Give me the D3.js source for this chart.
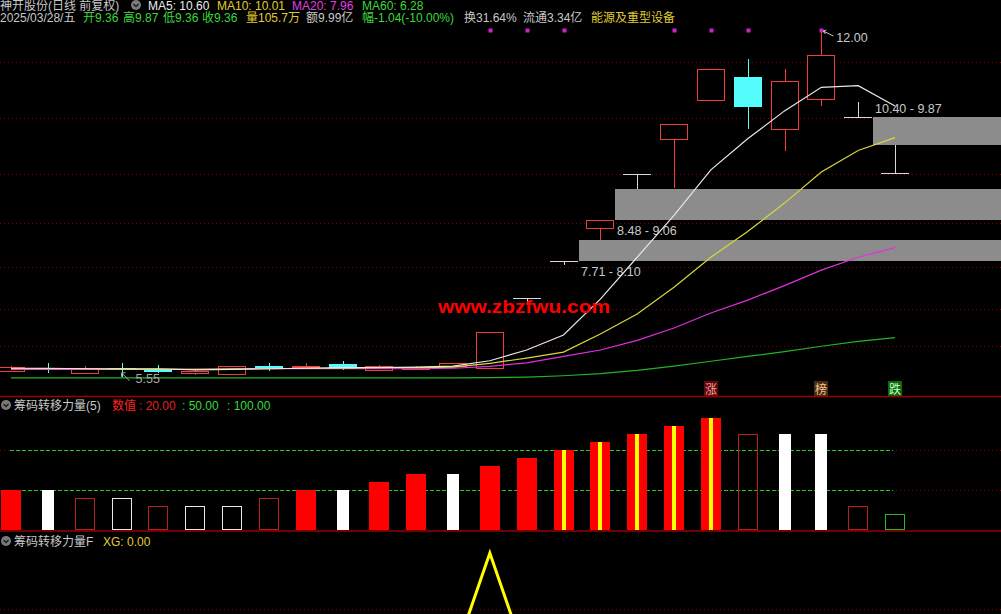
<!DOCTYPE html>
<html><head><meta charset="utf-8">
<script src="https://cdn.jsdelivr.net/npm/d3@7"></script>
<style>
html,body{margin:0;padding:0;background:#000;overflow:hidden}
svg{display:block}
text{font-family:"Liberation Sans","Noto Sans CJK SC",sans-serif;font-size:12px}
</style></head><body><svg id="c" width="1001" height="614"></svg>
<script>
// ---------- data ----------
const dates = ["2025-02-24","2025-02-25","2025-02-26","2025-02-27","2025-02-28",
  "2025-03-03","2025-03-04","2025-03-05","2025-03-06","2025-03-07",
  "2025-03-10","2025-03-11","2025-03-12","2025-03-13","2025-03-14",
  "2025-03-17","2025-03-18","2025-03-19","2025-03-20","2025-03-21",
  "2025-03-24","2025-03-25","2025-03-26","2025-03-27","2025-03-28"];
const open  = [5.66,5.72,5.62,5.71,5.68,5.62,5.60,5.76,5.73,5.79,5.68,5.70,5.76,5.72,7.02,7.71,8.33,9.33,9.99,10.71,11.15,10.17,10.73,10.40,9.36];
const high  = [5.76,5.80,5.76,5.81,5.77,5.70,5.76,5.80,5.80,5.84,5.77,5.76,5.81,6.38,7.02,7.71,8.48,9.33,10.26,11.29,11.47,11.29,12.00,10.68,9.87];
const low   = [5.64,5.62,5.60,5.55,5.63,5.58,5.58,5.66,5.72,5.68,5.65,5.68,5.74,5.70,6.91,7.64,8.10,9.06,9.07,10.71,10.17,9.76,10.60,10.40,9.36];
const close = [5.74,5.69,5.71,5.69,5.65,5.66,5.75,5.73,5.76,5.72,5.75,5.74,5.80,6.38,7.02,7.71,8.48,9.33,10.26,11.29,10.60,11.07,11.55,10.40,9.36];
const ma5  = [5.71,5.71,5.70,5.70,5.70,5.68,5.69,5.70,5.71,5.72,5.72,5.73,5.75,5.85,6.05,6.33,7.00,7.78,8.56,9.41,9.99,10.51,10.95,10.98,10.60];
const ma10 = [5.70,5.70,5.70,5.69,5.69,5.69,5.70,5.70,5.71,5.71,5.72,5.72,5.73,5.80,5.90,6.01,6.35,6.72,7.22,7.78,8.26,8.79,9.37,9.77,10.01];
const ma20 = [5.69,5.69,5.69,5.69,5.69,5.69,5.69,5.70,5.70,5.70,5.70,5.70,5.71,5.745,5.81,5.93,6.05,6.23,6.46,6.74,6.98,7.25,7.54,7.78,7.96];
const ma60 = [5.53,5.53,5.53,5.53,5.53,5.53,5.53,5.53,5.53,5.53,5.53,5.53,5.53,5.535,5.545,5.57,5.61,5.67,5.75,5.84,5.93,6.02,6.12,6.21,6.28];
const gridPrices = [11.42,10.37,9.33,8.42,7.59,6.81,6.13];
const gapLow  = [7.71, 8.48, 9.87];
const gapHigh = [8.10, 9.06, 10.40];
const gapFrom = [15, 16, 23];
const gapLabels = ["7.71 - 8.10", "8.48 - 9.06", "10.40 - 9.87"];
const gapLabelAbove = [false, false, true];
const signalDots = [13,14,15,18,19,20,22];
const tagIdx  = [19, 22, 24];
const tagText = ["涨", "榜", "跌"];
const power     = [50,50,40,40,30,30,30,40,50,50,60,70,70,80,90,100,110,120,130,140,120,120,120,30,20];
const powerType = ["R","W","r","w","r","w","w","r","R","W","R","R","W","R","R","Y","Y","Y","Y","Y","r","W","W","r","g"];
const powerLevels = [50, 100];
const xg = [0,0,0,0,0,0,0,0,0,0,0,0,0,1,0,0,0,0,0,0,0,0,0,0,0];

// ---------- setup ----------
const svg = d3.select("#c");
svg.append("rect").attr("width",1001).attr("height",614).attr("fill","#000");
const x = d3.scalePoint().domain(dates).range([11, 895]);
const y = d3.scaleLinear().domain([7.71, 12.00]).range([261, 31]);
const yP = d3.scaleLinear().domain([0, 100]).range([529.5, 449.5]);
const yX = d3.scaleLinear().domain([0, 1]).range([660, 553]);
const px = v => Math.round(v) + 0.5;

const RED = "#f03c3c", CYAN = "#54fcfc", FLAT = "#d8d8d8";
const GRID = "#7a0000";

// ---------- main grid ----------
svg.append("g").selectAll("line").data(gridPrices).join("line")
  .attr("x1",0).attr("x2",1001)
  .attr("y1",d=>px(y(d))).attr("y2",d=>px(y(d)))
  .attr("stroke",GRID).attr("stroke-dasharray","1 3");

// ---------- gap boxes ----------
const gaps = gapLow.map((lo,k)=>({lo, hi:gapHigh[k], i:gapFrom[k], label:gapLabels[k], above:gapLabelAbove[k]}));
const gG = svg.append("g");
gG.selectAll("rect").data(gaps).join("rect")
  .attr("x",d=>Math.round(x(dates[d.i]))+15)
  .attr("y",d=>Math.round(y(d.hi)))
  .attr("width",d=>1001-(Math.round(x(dates[d.i]))+15))
  .attr("height",d=>Math.round(y(d.lo))-Math.round(y(d.hi)))
  .attr("fill","#8c8c8c");
gG.selectAll("text").data(gaps).join("text")
  .attr("x",d=>Math.round(x(dates[d.i]))+17)
  .attr("y",d=>d.above ? y(d.hi)-4 : y(d.lo)+15)
  .attr("fill","#c8c8c8").style("font-size","12.5px")
  .text(d=>d.label);

// ---------- candles ----------
const candles = dates.map((d,i)=>({d, o:open[i], h:high[i], l:low[i], c:close[i]}));
const cG = svg.append("g").attr("shape-rendering","crispEdges");
candles.forEach(k=>{
  const cx = Math.round(x(k.d));
  const col = k.c > k.o ? RED : (k.c < k.o ? CYAN : FLAT);
  cG.append("line").attr("x1",cx+0.5).attr("x2",cx+0.5)
    .attr("y1",y(k.h)).attr("y2",y(k.l)).attr("stroke",col);
  if (k.c === k.o) {
    cG.append("line").attr("x1",cx-14).attr("x2",cx+14)
      .attr("y1",px(y(k.o))).attr("y2",px(y(k.o))).attr("stroke",col);
  } else {
    const top = Math.round(y(Math.max(k.o,k.c))), bot = Math.round(y(Math.min(k.o,k.c)));
    cG.append("rect").attr("x",cx-13.5).attr("y",top+0.5)
      .attr("width",27).attr("height",Math.max(1,bot-top))
      .attr("fill",k.c>k.o ? "#000" : CYAN).attr("stroke",col);
  }
});

// ---------- MA lines ----------
const maSeries = [[ma60,"#22b422"],[ma20,"#e030e0"],[ma10,"#d8d838"],[ma5,"#e8e8e8"]];
const lineGen = d3.line().x((v,i)=>x(dates[i])).y(v=>y(v));
svg.append("g").selectAll("path").data(maSeries).join("path")
  .attr("d",d=>lineGen(d[0])).attr("fill","none").attr("stroke",d=>d[1]).attr("stroke-width",1.2);

// ---------- signal dots ----------
svg.append("g").selectAll("rect").data(signalDots).join("rect")
  .attr("x",i=>Math.round(x(dates[i]))-1.5).attr("y",28.5).attr("width",4).attr("height",4)
  .attr("fill","#d020d0");

// ---------- high / low labels ----------
const hiIdx = d3.maxIndex(high), loIdx = d3.minIndex(low);
const hx = x(dates[hiIdx]), hy = y(high[hiIdx]);
svg.append("path").attr("d",`M${hx+12},${hy+5} L${hx+2},${hy} M${hx+2},${hy} l3,-1 M${hx+2},${hy} l2,3`)
  .attr("stroke","#c8c8c8").attr("fill","none");
svg.append("text").attr("x",hx+15).attr("y",hy+11).attr("fill","#c8c8c8").style("font-size","12.5px")
  .text(high[hiIdx].toFixed(2));
const lx = x(dates[loIdx]), ly = y(low[loIdx]);
svg.append("path").attr("d",`M${lx+8},${ly+4} L${lx},${ly-4} M${lx},${ly-4} l0,4 M${lx},${ly-4} l4,0`)
  .attr("stroke","#a8a8a8").attr("fill","none");
svg.append("text").attr("x",lx+14).attr("y",ly+6).attr("fill","#a8a8a8").style("font-size","12.5px")
  .text(low[loIdx].toFixed(2));

// ---------- watermark ----------
svg.append("text").attr("x",438).attr("y",313).attr("fill","#ff0000")
  .attr("textLength",172).attr("lengthAdjust","spacingAndGlyphs")
  .style("font-size","19px").style("font-weight","bold").style("font-family","Liberation Sans, Arial, sans-serif")
  .text("www.zbzfwu.com");

// ---------- tags ----------
const tagBg = ["#5a0c0c","#4a2a10","#0c6a0c"], tagFg = ["#ff9a9a","#f0c890","#c8ffc8"];
tagIdx.forEach((i,k)=>{
  const cx = Math.round(x(dates[i]));
  svg.append("rect").attr("x",cx-7).attr("y",381).attr("width",14).attr("height",16).attr("fill",tagBg[k]);
  svg.append("text").attr("x",cx).attr("y",394).attr("text-anchor","middle").attr("fill",tagFg[k])
    .style("font-size","12px").text(tagText[k]);
});

// ---------- panel separators ----------
svg.append("line").attr("x1",0).attr("x2",1001).attr("y1",396.5).attr("y2",396.5).attr("stroke","#9a0000").attr("stroke-width",1.5);
svg.append("line").attr("x1",0).attr("x2",1001).attr("y1",531).attr("y2",531).attr("stroke","#9a0000").attr("stroke-width",1.5);

// ---------- sub panel 1 ----------
svg.append("g").selectAll("line").data(powerLevels).join("line")
  .attr("x1",0).attr("x2",1001).attr("y1",d=>px(yP(d))).attr("y2",d=>px(yP(d)))
  .attr("stroke",GRID).attr("stroke-dasharray","1 3");
svg.append("g").selectAll("line").data(powerLevels).join("line")
  .attr("x1",10).attr("x2",893).attr("y1",d=>px(yP(d))).attr("y2",d=>px(yP(d)))
  .attr("stroke","#22cc22").attr("stroke-dasharray","4 2");
const pG = svg.append("g").attr("shape-rendering","crispEdges");
power.forEach((v,i)=>{
  const cx = Math.round(x(dates[i])), t = powerType[i];
  const top = Math.round(yP(v)), base = 530;
  if (t==="R" || t==="Y") {
    pG.append("rect").attr("x",cx-10).attr("y",top).attr("width",20).attr("height",base-top).attr("fill","#ff0000");
    if (t==="Y") pG.append("rect").attr("x",cx-2).attr("y",top).attr("width",4).attr("height",base-top).attr("fill","#ffff00");
  } else if (t==="W") {
    pG.append("rect").attr("x",cx-6).attr("y",top).attr("width",12).attr("height",base-top).attr("fill","#ffffff");
  } else {
    const sc = t==="r" ? "#b82020" : (t==="w" ? "#e8e8e8" : "#22bb22");
    pG.append("rect").attr("x",cx-9.5).attr("y",top+0.5).attr("width",19).attr("height",base-top-1)
      .attr("fill","none").attr("stroke",sc).attr("stroke-width",1.2);
  }
});

// ---------- sub panel 2 ----------
svg.append("line").attr("x1",0).attr("x2",1001).attr("y1",609.5).attr("y2",609.5).attr("stroke",GRID).attr("stroke-dasharray","1 3");
svg.append("path").attr("d",d3.line().x((v,i)=>x(dates[i])).y(v=>yX(v))(xg))
  .attr("fill","none").attr("stroke","#ffff00").attr("stroke-width",3);

// ---------- header texts ----------
function icon(cx, cy){
  svg.append("circle").attr("cx",cx).attr("cy",cy).attr("r",5).attr("fill","#7a7a7a");
  svg.append("path").attr("d",`M${cx-2.5},${cy-1} L${cx},${cy+1.5} L${cx+2.5},${cy-1}`).attr("stroke","#1a1a1a").attr("stroke-width",1.3).attr("fill","none");
}
function seg(list, yb){
  list.forEach(s=>svg.append("text").attr("x",s[0]).attr("y",yb).attr("fill",s[2]).text(s[1]));
}
const GW = "#c8c8c8", YL = "#e0cc30", GR = "#3cd83c", MG = "#e040e0";
seg([[0,"神开股份(日线 前复权)",GW],[148,"MA5: 10.60","#ececec"],[217,"MA10: 10.01",YL],[292,"MA20: 7.96",MG],[362,"MA60: 6.28",GR]], 10);
icon(136, 5);
seg([[0,"2025/03/28/五",GW],[83,"开9.36",GR],[123,"高9.87",GR],[163,"低9.36",GR],[202,"收9.36",GR],
     [246,"量105.7万",YL],[306,"额9.99亿",GW],[362,"幅-1.04(-10.00%)",GR],[464,"换31.64%",GW],
     [523,"流通3.34亿",GW],[591,"能源及重型设备",YL]], 22);
icon(6, 405);
seg([[14,"筹码转移力量(5)",GW],[112,"数值",  "#ff2020"],[139,": 20.00","#e02020"],[182,": 50.00",GR],[227,": 100.00",GR]], 410);
icon(6, 541);
seg([[14,"筹码转移力量F",GW],[103,"XG: 0.00",YL]], 546);
</script></body></html>
